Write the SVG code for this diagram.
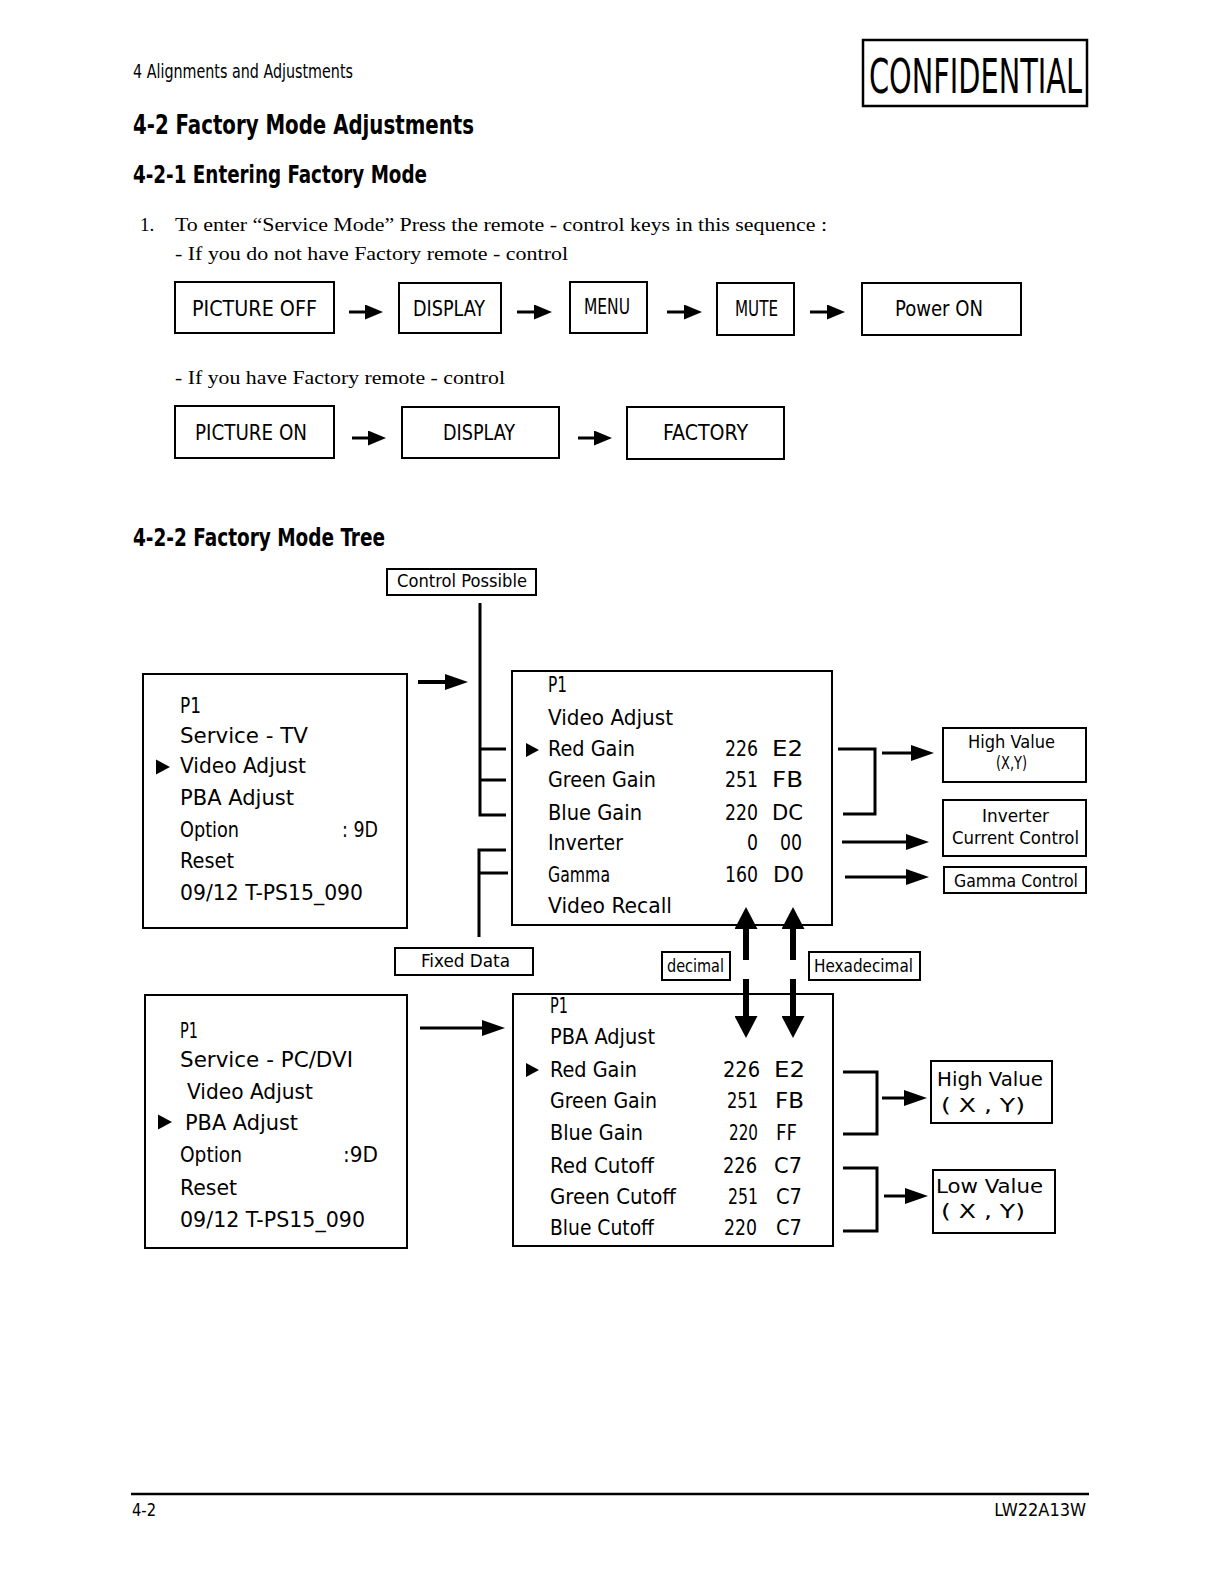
<svg xmlns="http://www.w3.org/2000/svg" width="1219" height="1582" viewBox="0 0 1219 1582">
<style>
.bx{fill:#fff;stroke:#000;stroke-width:2}
.ln{fill:none;stroke:#000;stroke-width:3}
.c{font-family:"DejaVu Sans Condensed","DejaVu Sans",sans-serif;fill:#000}
.h{font-family:"DejaVu Sans Condensed","DejaVu Sans",sans-serif;font-weight:bold;fill:#000}
.s{font-family:"Liberation Serif","DejaVu Serif",serif;font-size:19px;fill:#000}
.k{font-family:"DejaVu Sans Condensed","DejaVu Sans",sans-serif;font-size:22px;fill:#000}
.m{font-family:"DejaVu Sans Condensed","DejaVu Sans",sans-serif;font-size:21px;fill:#000}
.l{font-family:"DejaVu Sans Condensed","DejaVu Sans",sans-serif;font-size:17px;fill:#000}
</style>
<defs>
<marker id="a1" markerUnits="userSpaceOnUse" markerWidth="18" markerHeight="15" refX="1" refY="7.5" orient="auto"><path d="M0,0 L18,7.5 L0,15 z" fill="#000"/></marker>
<marker id="a3" markerUnits="userSpaceOnUse" markerWidth="23" markerHeight="16" refX="1" refY="8" orient="auto"><path d="M0,0 L23,8 L0,16 z" fill="#000"/></marker>
<marker id="a2" markerUnits="userSpaceOnUse" markerWidth="22" markerHeight="23" refX="1" refY="11.5" orient="auto"><path d="M0,0 L22,11.5 L0,23 z" fill="#000"/></marker>
</defs>
<rect width="1219" height="1582" fill="#fff"/>

<g id="header">
<text class="c" x="133" y="78" font-size="19" textLength="220" lengthAdjust="spacingAndGlyphs">4 Alignments and Adjustments</text>
<rect x="863" y="40" width="224" height="66" fill="none" stroke="#000" stroke-width="2.5"/>
<text class="c" x="869" y="93" font-size="48" textLength="213" lengthAdjust="spacingAndGlyphs">CONFIDENTIAL</text>
<text class="h" x="133" y="134" font-size="27" textLength="341" lengthAdjust="spacingAndGlyphs">4-2 Factory Mode Adjustments</text>
<text class="h" x="133" y="183" font-size="24" textLength="294" lengthAdjust="spacingAndGlyphs">4-2-1 Entering Factory Mode</text>
<text class="s" x="140" y="231">1.</text>
<text class="s" x="175" y="231" textLength="652" lengthAdjust="spacingAndGlyphs">To enter “Service Mode” Press the remote - control keys in this sequence :</text>
<text class="s" x="175" y="260" textLength="393" lengthAdjust="spacingAndGlyphs">- If you do not have Factory remote - control</text>
<text class="s" x="175" y="384" textLength="330" lengthAdjust="spacingAndGlyphs">- If you have Factory remote - control</text>
<text class="h" x="133" y="546" font-size="24" textLength="252" lengthAdjust="spacingAndGlyphs">4-2-2 Factory Mode Tree</text>
</g>

<g id="key-picture-off"><rect class="bx" x="175" y="282" width="159" height="51"/><text class="k" x="192" y="316" textLength="125" lengthAdjust="spacingAndGlyphs">PICTURE  OFF</text></g>
<g id="key-display-1"><rect class="bx" x="399" y="283" width="102" height="50"/><text class="k" x="413" y="316" textLength="72" lengthAdjust="spacingAndGlyphs">DISPLAY</text></g>
<g id="key-menu"><rect class="bx" x="570" y="282" width="77" height="51"/><text class="k" x="584" y="314" textLength="46" lengthAdjust="spacingAndGlyphs">MENU</text></g>
<g id="key-mute"><rect class="bx" x="717" y="283" width="77" height="52"/><text class="k" x="735" y="316" textLength="43" lengthAdjust="spacingAndGlyphs">MUTE</text></g>
<g id="key-power-on"><rect class="bx" x="862" y="283" width="159" height="52"/><text class="k" x="895" y="316" textLength="88" lengthAdjust="spacingAndGlyphs">Power  ON</text></g>
<g id="key-picture-on"><rect class="bx" x="175" y="406" width="159" height="52"/><text class="k" x="195" y="440" textLength="112" lengthAdjust="spacingAndGlyphs">PICTURE  ON</text></g>
<g id="key-display-2"><rect class="bx" x="402" y="407" width="157" height="51"/><text class="k" x="443" y="440" textLength="72" lengthAdjust="spacingAndGlyphs">DISPLAY</text></g>
<g id="key-factory"><rect class="bx" x="627" y="407" width="157" height="52"/><text class="k" x="663" y="440" textLength="85" lengthAdjust="spacingAndGlyphs">FACTORY</text></g>

<g id="label-control-possible"><rect class="bx" x="387" y="569" width="149" height="26"/><text class="l" x="397" y="587" textLength="130" lengthAdjust="spacingAndGlyphs">Control Possible</text></g>
<g id="label-fixed-data"><rect class="bx" x="395" y="948" width="138" height="27"/><text class="l" x="421" y="967" textLength="89" lengthAdjust="spacingAndGlyphs">Fixed  Data</text></g>
<g id="label-decimal"><rect class="bx" x="662" y="952" width="68" height="28"/><text class="l" x="667" y="972" textLength="57" lengthAdjust="spacingAndGlyphs">decimal</text></g>
<g id="label-hexadecimal"><rect class="bx" x="809" y="952" width="111" height="28"/><text class="l" x="814" y="972" textLength="99" lengthAdjust="spacingAndGlyphs">Hexadecimal</text></g>

<g id="menu-service-tv">
<rect class="bx" x="143" y="674" width="264" height="254"/>
<polygon points="156,759.5 170,767 156,774.5" fill="#000"/>
<text class="m" x="180" y="713" textLength="21" lengthAdjust="spacingAndGlyphs">P1</text>
<text class="m" x="180" y="743" textLength="128" lengthAdjust="spacingAndGlyphs">Service - TV</text>
<text class="m" x="180" y="773" textLength="126" lengthAdjust="spacingAndGlyphs">Video Adjust</text>
<text class="m" x="180" y="805" textLength="114" lengthAdjust="spacingAndGlyphs">PBA Adjust</text>
<text class="m" x="180" y="837" textLength="59" lengthAdjust="spacingAndGlyphs">Option</text>
<text class="m" x="342" y="837" textLength="36" lengthAdjust="spacingAndGlyphs">: 9D</text>
<text class="m" x="180" y="868" textLength="54" lengthAdjust="spacingAndGlyphs">Reset</text>
<text class="m" x="180" y="900" textLength="183" lengthAdjust="spacingAndGlyphs">09/12 T-PS15_090</text>
</g>

<g id="menu-video-adjust">
<rect class="bx" x="512" y="671" width="320" height="254"/>
<polygon points="526,743 539,750 526,757" fill="#000"/>
<text class="m" x="548" y="692" textLength="19" lengthAdjust="spacingAndGlyphs">P1</text>
<text class="m" x="548" y="725" textLength="125" lengthAdjust="spacingAndGlyphs">Video Adjust</text>
<text class="m" x="548" y="756" textLength="87" lengthAdjust="spacingAndGlyphs">Red Gain</text>
<text class="m" x="548" y="787" textLength="108" lengthAdjust="spacingAndGlyphs">Green Gain</text>
<text class="m" x="548" y="820" textLength="94" lengthAdjust="spacingAndGlyphs">Blue Gain</text>
<text class="m" x="548" y="850" textLength="75" lengthAdjust="spacingAndGlyphs">Inverter</text>
<text class="m" x="548" y="882" textLength="62" lengthAdjust="spacingAndGlyphs">Gamma</text>
<text class="m" x="548" y="913" textLength="124" lengthAdjust="spacingAndGlyphs">Video Recall</text>
<text class="m" x="725" y="756" textLength="33" lengthAdjust="spacingAndGlyphs">226</text>
<text class="m" x="772" y="756" textLength="31" lengthAdjust="spacingAndGlyphs">E2</text>
<text class="m" x="725" y="787" textLength="33" lengthAdjust="spacingAndGlyphs">251</text>
<text class="m" x="772" y="787" textLength="31" lengthAdjust="spacingAndGlyphs">FB</text>
<text class="m" x="725" y="820" textLength="33" lengthAdjust="spacingAndGlyphs">220</text>
<text class="m" x="772" y="820" textLength="31" lengthAdjust="spacingAndGlyphs">DC</text>
<text class="m" x="747" y="850" textLength="11" lengthAdjust="spacingAndGlyphs">0</text>
<text class="m" x="780" y="850" textLength="22" lengthAdjust="spacingAndGlyphs">00</text>
<text class="m" x="725" y="882" textLength="33" lengthAdjust="spacingAndGlyphs">160</text>
<text class="m" x="773" y="882" textLength="31" lengthAdjust="spacingAndGlyphs">D0</text>
</g>

<g id="box-high-value-1"><rect class="bx" x="943" y="728" width="143" height="54"/>
<text class="l" x="968" y="748" textLength="87" lengthAdjust="spacingAndGlyphs">High Value</text>
<text class="l" x="996" y="769" textLength="31" lengthAdjust="spacingAndGlyphs">(X,Y)</text></g>
<g id="box-inverter"><rect class="bx" x="943" y="800" width="143" height="56"/>
<text class="l" x="982" y="822" textLength="67" lengthAdjust="spacingAndGlyphs">Inverter</text>
<text class="l" x="952" y="844" textLength="127" lengthAdjust="spacingAndGlyphs">Current Control</text></g>
<g id="box-gamma"><rect class="bx" x="944" y="867" width="142" height="26"/>
<text class="l" x="954" y="887" textLength="124" lengthAdjust="spacingAndGlyphs">Gamma  Control</text></g>

<g id="menu-service-pc">
<rect class="bx" x="145" y="995" width="262" height="253"/>
<polygon points="158,1114.5 172,1122 158,1129.5" fill="#000"/>
<text class="m" x="180" y="1038" textLength="18" lengthAdjust="spacingAndGlyphs">P1</text>
<text class="m" x="180" y="1067" textLength="173" lengthAdjust="spacingAndGlyphs">Service - PC/DVI</text>
<text class="m" x="187" y="1099" textLength="126" lengthAdjust="spacingAndGlyphs">Video Adjust</text>
<text class="m" x="185" y="1130" textLength="113" lengthAdjust="spacingAndGlyphs">PBA Adjust</text>
<text class="m" x="180" y="1162" textLength="62" lengthAdjust="spacingAndGlyphs">Option</text>
<text class="m" x="343" y="1162" textLength="35" lengthAdjust="spacingAndGlyphs">:9D</text>
<text class="m" x="180" y="1195" textLength="57" lengthAdjust="spacingAndGlyphs">Reset</text>
<text class="m" x="180" y="1227" textLength="185" lengthAdjust="spacingAndGlyphs">09/12 T-PS15_090</text>
</g>

<g id="menu-pba-adjust">
<rect class="bx" x="513" y="994" width="320" height="252"/>
<polygon points="526,1063 539,1070 526,1077" fill="#000"/>
<text class="m" x="550" y="1013" textLength="18" lengthAdjust="spacingAndGlyphs">P1</text>
<text class="m" x="550" y="1044" textLength="105" lengthAdjust="spacingAndGlyphs">PBA Adjust</text>
<text class="m" x="550" y="1077" textLength="87" lengthAdjust="spacingAndGlyphs">Red Gain</text>
<text class="m" x="550" y="1108" textLength="107" lengthAdjust="spacingAndGlyphs">Green Gain</text>
<text class="m" x="550" y="1140" textLength="93" lengthAdjust="spacingAndGlyphs">Blue Gain</text>
<text class="m" x="550" y="1173" textLength="104" lengthAdjust="spacingAndGlyphs">Red Cutoff</text>
<text class="m" x="550" y="1204" textLength="126" lengthAdjust="spacingAndGlyphs">Green Cutoff</text>
<text class="m" x="550" y="1235" textLength="104" lengthAdjust="spacingAndGlyphs">Blue Cutoff</text>
<text class="m" x="723" y="1077" textLength="37" lengthAdjust="spacingAndGlyphs">226</text>
<text class="m" x="774" y="1077" textLength="31" lengthAdjust="spacingAndGlyphs">E2</text>
<text class="m" x="727" y="1108" textLength="31" lengthAdjust="spacingAndGlyphs">251</text>
<text class="m" x="775" y="1108" textLength="29" lengthAdjust="spacingAndGlyphs">FB</text>
<text class="m" x="729" y="1140" textLength="29" lengthAdjust="spacingAndGlyphs">220</text>
<text class="m" x="776" y="1140" textLength="21" lengthAdjust="spacingAndGlyphs">FF</text>
<text class="m" x="723" y="1173" textLength="34" lengthAdjust="spacingAndGlyphs">226</text>
<text class="m" x="774" y="1173" textLength="28" lengthAdjust="spacingAndGlyphs">C7</text>
<text class="m" x="728" y="1204" textLength="30" lengthAdjust="spacingAndGlyphs">251</text>
<text class="m" x="776" y="1204" textLength="26" lengthAdjust="spacingAndGlyphs">C7</text>
<text class="m" x="724" y="1235" textLength="33" lengthAdjust="spacingAndGlyphs">220</text>
<text class="m" x="776" y="1235" textLength="26" lengthAdjust="spacingAndGlyphs">C7</text>
</g>

<g id="box-high-value-2"><rect class="bx" x="931" y="1061" width="121" height="62"/>
<text class="c" font-size="19" x="937" y="1086" textLength="106" lengthAdjust="spacingAndGlyphs">High Value</text>
<text class="c" font-size="19" x="941" y="1112" textLength="84" lengthAdjust="spacingAndGlyphs">( X  , Y)</text></g>
<g id="box-low-value"><rect class="bx" x="933" y="1170" width="122" height="63"/>
<text class="c" font-size="19" x="936" y="1193" textLength="107" lengthAdjust="spacingAndGlyphs">Low  Value</text>
<text class="c" font-size="19" x="941" y="1218" textLength="84" lengthAdjust="spacingAndGlyphs">( X  , Y)</text></g>

<g id="connectors">
<line class="ln" x1="349" y1="312" x2="366" y2="312" marker-end="url(#a1)"/>
<line class="ln" x1="517" y1="312" x2="535" y2="312" marker-end="url(#a1)"/>
<line class="ln" x1="667" y1="312" x2="685" y2="312" marker-end="url(#a1)"/>
<line class="ln" x1="810" y1="312" x2="828" y2="312" marker-end="url(#a1)"/>
<line class="ln" x1="352" y1="438" x2="369" y2="438" marker-end="url(#a1)"/>
<line class="ln" x1="578" y1="438" x2="595" y2="438" marker-end="url(#a1)"/>

<line x1="418" y1="682" x2="446" y2="682" stroke="#000" stroke-width="4" marker-end="url(#a3)"/>
<path class="ln" d="M480,603 V815 H506 M480,749 H506 M480,780 H506"/>
<path class="ln" d="M506,850 H479 V937 M479,873 H508"/>

<path class="ln" d="M838,749 H875 V814 H843"/>
<line class="ln" x1="882" y1="753" x2="912" y2="753" marker-end="url(#a3)"/>
<line class="ln" x1="842" y1="842" x2="907" y2="842" marker-end="url(#a3)"/>
<line class="ln" x1="845" y1="877" x2="907" y2="877" marker-end="url(#a3)"/>

<line x1="746" y1="960" x2="746" y2="928" stroke="#000" stroke-width="6" marker-end="url(#a2)"/>
<line x1="793" y1="960" x2="793" y2="928" stroke="#000" stroke-width="6" marker-end="url(#a2)"/>
<line x1="746" y1="979" x2="746" y2="1017" stroke="#000" stroke-width="6" marker-end="url(#a2)"/>
<line x1="793" y1="979" x2="793" y2="1017" stroke="#000" stroke-width="6" marker-end="url(#a2)"/>

<line class="ln" x1="420" y1="1028" x2="483" y2="1028" marker-end="url(#a3)"/>
<path class="ln" d="M843,1072 H877 V1134 H843"/>
<line class="ln" x1="882" y1="1098" x2="905" y2="1098" marker-end="url(#a3)"/>
<path class="ln" d="M843,1168 H877 V1231 H843"/>
<line class="ln" x1="884" y1="1196" x2="906" y2="1196" marker-end="url(#a3)"/>
</g>

<g id="footer">
<line x1="131" y1="1494" x2="1089" y2="1494" stroke="#000" stroke-width="2.5"/>
<text class="c" x="132" y="1516" font-size="18" textLength="24" lengthAdjust="spacingAndGlyphs">4-2</text>
<text class="c" x="1086" y="1516" font-size="18" text-anchor="end">LW22A13W</text>
</g>
</svg>
